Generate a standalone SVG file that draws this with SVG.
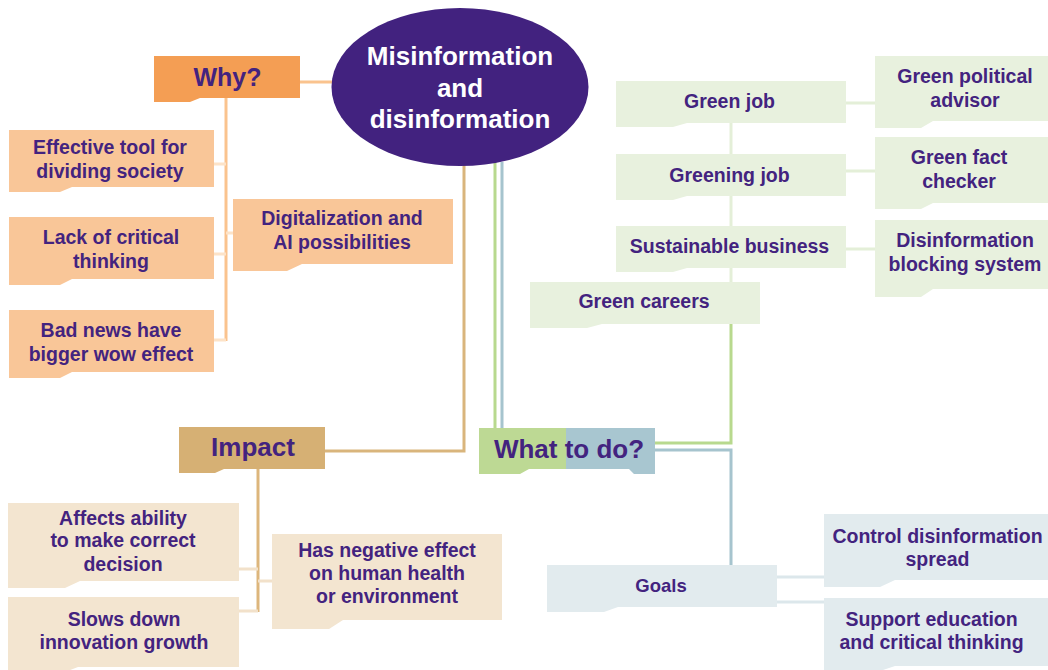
<svg xmlns="http://www.w3.org/2000/svg" width="1048" height="670" viewBox="0 0 1048 670">
  <style>
    text { font-family: "Liberation Sans", Arial, sans-serif; font-weight: bold; fill: #43237F; text-anchor: middle; }
    .sub { font-size: 19.5px; }
    .head { font-size: 26px; }
    .core { font-size: 26px; fill: #FFFFFF; }
    .why-main { fill: #F49E54; }
    .why-sub { fill: #F9C698; }
    .imp-main { fill: #D6B074; }
    .imp-sub { fill: #F3E5D0; }
    .green-sub { fill: #E8F1DE; }
    .goal-sub { fill: #E2EBEE; }
    .conn { fill: none; stroke-width: 3; }
  </style>

  <!-- connectors -->
  <g id="connectors">
    <!-- why branch -->
    <path class="conn" stroke="#FAC38E" d="M300 82 H333"/>
    <path class="conn" stroke="#FAC38E" d="M226 98 V341"/>
    <path class="conn" stroke="#FDE3C8" d="M214 164 H226 M226 233 H233 M214 254 H226 M214 340 H226"/>
    <!-- impact branch -->
    <path class="conn" stroke="#D9B57C" d="M464 164 V451 H325"/>
    <path class="conn" stroke="#DDB67C" d="M258 469 V612"/>
    <path class="conn" stroke="#F2E1CA" d="M239 569 H258 M258 581 H272 M239 611 H258"/>
    <!-- what to do branches -->
    <path class="conn" stroke="#B8D98E" d="M495 162 V428"/>
    <path class="conn" stroke="#A6C4CE" d="M502 162 V428"/>
    <path class="conn" stroke="#B8D98E" d="M655 443 H731 V324"/>
    <path class="conn" stroke="#E4EFD8" d="M731 123 V282"/>
    <path class="conn" stroke="#E4EFD8" d="M846 103 H875 M846 171 H875 M846 249 H875"/>
    <path class="conn" stroke="#A6C4CE" d="M655 450 H731 V565"/>
    <path class="conn" stroke="#DCE7EB" d="M777 577 H824 M777 602 H824"/>
  </g>

  <!-- central topic -->
  <g id="core">
    <ellipse cx="460" cy="87" rx="128.5" ry="79" fill="#42227F"/>
    <text class="core" x="460" y="65">Misinformation</text>
    <text class="core" x="460" y="97">and</text>
    <text class="core" x="460" y="128">disinformation</text>
  </g>

  <!-- why -->
  <g id="why">
    <path class="why-main" d="M154 56 H300 V98 H200 L190 102 H154 Z"/>
    <text x="227.5" y="86" style="font-size:25px">Why?</text>
  </g>
  <g id="why-dividing">
    <path class="why-sub" d="M9 130 H214 V187 H72 L60 192 H9 Z"/>
    <text class="sub" x="110" y="154">Effective tool for</text>
    <text class="sub" x="110" y="178">dividing society</text>
  </g>
  <g id="why-critical">
    <path class="why-sub" d="M9 217 H214 V279 H72 L60 285 H9 Z"/>
    <text class="sub" x="111" y="244">Lack of critical</text>
    <text class="sub" x="111" y="268">thinking</text>
  </g>
  <g id="why-badnews">
    <path class="why-sub" d="M9 310 H214 V372 H72 L60 378 H9 Z"/>
    <text class="sub" x="111" y="337">Bad news have</text>
    <text class="sub" x="111" y="361">bigger wow effect</text>
  </g>
  <g id="why-digital">
    <path class="why-sub" d="M233 199 H453 V264 H302 L287 271 H233 Z"/>
    <text class="sub" x="342" y="225">Digitalization and</text>
    <text class="sub" x="342" y="249">AI possibilities</text>
  </g>

  <!-- impact -->
  <g id="impact">
    <path class="imp-main" d="M179 427 H325 V469 H224 L215 473 H179 Z"/>
    <text class="head" x="253" y="456">Impact</text>
  </g>
  <g id="impact-decision">
    <path class="imp-sub" d="M8 503 H239 V581 H80 L65 588 H8 Z"/>
    <text class="sub" x="123" y="525">Affects ability</text>
    <text class="sub" x="123" y="547">to make correct</text>
    <text class="sub" x="123" y="570.5">decision</text>
  </g>
  <g id="impact-innovation">
    <path class="imp-sub" d="M8 597 H239 V667 H78 L65 672 H8 Z"/>
    <text class="sub" x="124" y="626">Slows down</text>
    <text class="sub" x="124" y="649">innovation growth</text>
  </g>
  <g id="impact-health">
    <path class="imp-sub" d="M272 534 H502 V620 H343 L329 629 H272 Z"/>
    <text class="sub" x="387" y="557">Has negative effect</text>
    <text class="sub" x="387" y="580">on human health</text>
    <text class="sub" x="387" y="603">or environment</text>
  </g>

  <!-- what to do -->
  <g id="todo">
    <path fill="#A8C6D0" d="M566 428 H655 V474 H634 L629 469 H566 Z"/>
    <path fill="#BDD994" d="M479 428 H566 V469 H529 L520 474 H479 Z"/>
    <text class="head" x="569" y="458">What to do?</text>
  </g>

  <!-- green careers -->
  <g id="green-careers">
    <path class="green-sub" d="M530 282 H760 V324 H602 L587 328 H530 Z"/>
    <text class="sub" x="644" y="308">Green careers</text>
  </g>
  <g id="green-job">
    <path class="green-sub" d="M616 81 H846 V123 H687 L673 127 H616 Z"/>
    <text class="sub" x="729.5" y="108">Green job</text>
  </g>
  <g id="greening-job">
    <path class="green-sub" d="M616 154 H846 V196 H687 L673 200 H616 Z"/>
    <text class="sub" x="729.5" y="181.5">Greening job</text>
  </g>
  <g id="sustainable-business">
    <path class="green-sub" d="M616 226 H846 V268 H687 L673 272 H616 Z"/>
    <text class="sub" x="729.5" y="252.5">Sustainable business</text>
  </g>
  <g id="green-advisor">
    <path class="green-sub" d="M875 56 H1048 V121 H933 L921 128 H875 Z"/>
    <text class="sub" x="965" y="83">Green political</text>
    <text class="sub" x="965" y="107">advisor</text>
  </g>
  <g id="green-checker">
    <path class="green-sub" d="M875 137 H1048 V203 H933 L921 209 H875 Z"/>
    <text class="sub" x="959" y="164">Green fact</text>
    <text class="sub" x="959" y="187.5">checker</text>
  </g>
  <g id="blocking-system">
    <path class="green-sub" d="M875 220 H1048 V289 H933 L921 297 H875 Z"/>
    <text class="sub" x="965" y="246.5">Disinformation</text>
    <text class="sub" x="965" y="270.5">blocking system</text>
  </g>

  <!-- goals -->
  <g id="goals">
    <path class="goal-sub" d="M547 565 H777 V607 H618 L604 612 H547 Z"/>
    <text x="661" y="592" style="font-size:18.5px">Goals</text>
  </g>
  <g id="goal-control">
    <path class="goal-sub" d="M824 514 H1048 V580 H895 L880 587 H824 Z"/>
    <text class="sub" x="937.5" y="542.5">Control disinformation</text>
    <text class="sub" x="937.5" y="565.5">spread</text>
  </g>
  <g id="goal-education">
    <path class="goal-sub" d="M824 598 H1048 V666 H895 L880 671 H824 Z"/>
    <text class="sub" x="931.5" y="626">Support education</text>
    <text class="sub" x="931.5" y="649">and critical thinking</text>
  </g>
</svg>
